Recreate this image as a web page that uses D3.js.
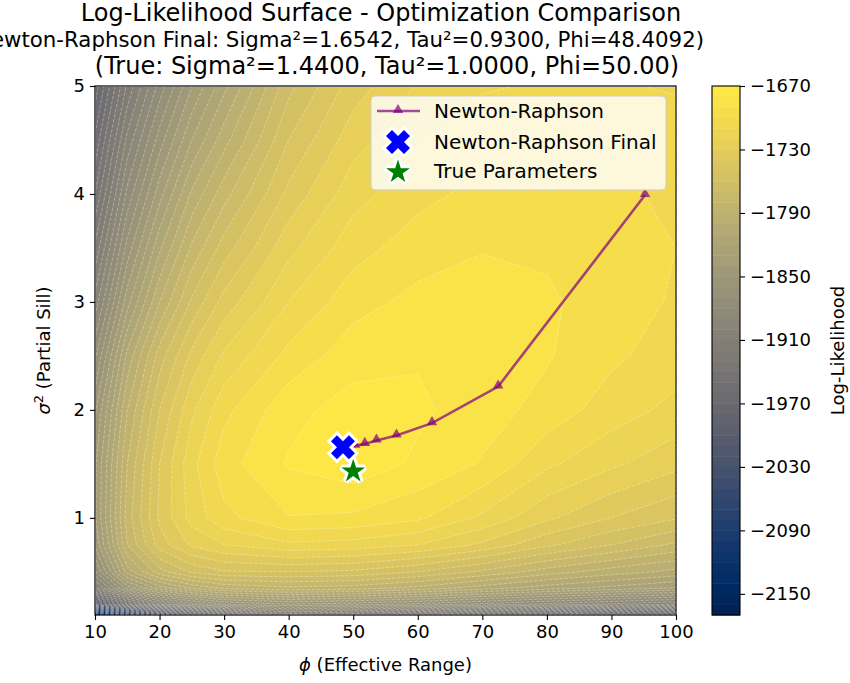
<!DOCTYPE html>
<html>
<head>
<meta charset="utf-8">
<script src="https://cdn.jsdelivr.net/npm/d3@7"></script>
<style>
  body { margin: 0; background: #fff; }
  svg { display: block; }
  text { font-family: "DejaVu Sans", sans-serif; fill: #000; }
</style>
</head>
<body>
<div id="chart"></div>
<script>
const width = 850;
const height = 683;

// grid of the surface
const phiGrid = [10, 15, 20, 25, 30, 40, 50, 60, 70, 80, 90, 100];
const sigmaGrid = [0.1, 0.2, 0.35, 0.5, 0.75, 1, 1.5, 2, 2.5, 3, 3.5, 4, 4.5, 5];
// one row per sigmaGrid value (bottom to top), columns follow phiGrid
const logLik = [
  [-2168, -2075, -2025, -1990, -1960, -1920, -1930, -1945, -1962, -1978, -1990, -2003],
  [-2005, -1940, -1898, -1876, -1860, -1850, -1855, -1862, -1872, -1882, -1892, -1900],
  [-1905, -1845, -1815, -1798, -1788, -1782, -1785, -1793, -1805, -1815, -1823, -1831],
  [-1872, -1805, -1774, -1758, -1751, -1750, -1752, -1760, -1772, -1785, -1795, -1803],
  [-1848, -1780, -1745, -1728, -1720, -1712, -1714, -1720, -1732, -1748, -1760, -1772],
  [-1842, -1775, -1738, -1716, -1703, -1690.5, -1692, -1698, -1712, -1728, -1740, -1749],
  [-1842, -1780, -1740, -1713, -1694, -1679, -1673, -1682, -1691, -1708, -1718, -1727],
  [-1852, -1790, -1750, -1722, -1703, -1683, -1676, -1678, -1685, -1694, -1705, -1713],
  [-1872, -1807, -1765, -1737, -1718, -1697, -1684, -1681, -1683, -1689, -1698, -1705],
  [-1896, -1834, -1790, -1758, -1736, -1710, -1694, -1687, -1686, -1688, -1696, -1701],
  [-1918, -1856, -1812, -1778, -1755, -1723, -1704, -1695, -1690.5, -1692, -1696, -1700],
  [-1940, -1877, -1834, -1798, -1774, -1737, -1714, -1703, -1697, -1697, -1699, -1701],
  [-1958, -1897, -1855, -1820, -1794, -1750, -1724, -1711, -1704, -1703, -1704, -1705],
  [-1976, -1918, -1876, -1840, -1813, -1763, -1735, -1719, -1711, -1709, -1709, -1711]
];

const levels = d3.range(-2170, -1669, 10);

// Newton-Raphson iterates
const nrPhi = [95.2, 72.45, 62.2, 56.7, 53.6, 51.8, 50.3, 48.4092];
const nrSigma = [3.99, 2.216, 1.877, 1.762, 1.716, 1.685, 1.668, 1.6542];
const finalPoint = [48.4092, 1.6542];
const truePoint = [50, 1.44];

const xTicks = d3.range(10, 101, 10);
const yTicks = [1, 2, 3, 4, 5];
const cbTicks = d3.range(-1670, -2151, -60);
const titleLines = [
  'Log-Likelihood Surface - Optimization Comparison',
  '(Newton-Raphson Final: Sigma²=1.6542, Tau²=0.9300, Phi=48.4092)',
  '(True: Sigma²=1.4400, Tau²=1.0000, Phi=50.00)'
];
const legendLabels = ['Newton-Raphson', 'Newton-Raphson Final', 'True Parameters'];

const plot = {left: 95, right: 676, top: 86, bottom: 615};
const cb = {left: 712, right: 740};
const tickFont = 18;

const svg = d3.select('#chart').append('svg')
    .attr('width', width)
    .attr('height', height);

const x = d3.scaleLinear().domain([10, 100]).range([plot.left, plot.right]);
const y = d3.scaleLinear().domain([0.1, 5]).range([plot.bottom, plot.top]);
const cbScale = d3.scaleLinear().domain([-2170, -1670]).range([plot.bottom, plot.top]);
const bandColor = v => d3.interpolateCividis((v + 5 - levels[0]) / (levels[levels.length - 1] - levels[0]));

svg.append('defs').append('clipPath')
    .attr('id', 'plot-clip')
  .append('rect')
    .attr('x', plot.left)
    .attr('y', plot.top)
    .attr('width', plot.right - plot.left)
    .attr('height', plot.bottom - plot.top);

// contour grid index -> data value (d3.contours puts value i at i + 0.5)
function gridToValue (grid, g) {
  const t = Math.max(0, Math.min(grid.length - 1, g - 0.5));
  const i = Math.min(Math.floor(t), grid.length - 2);
  return grid[i] + (t - i) * (grid[i + 1] - grid[i]);
}

const gridProjection = d3.geoTransform({
  point: function (px, py) {
    this.stream.point(x(gridToValue(phiGrid, px)), y(gridToValue(sigmaGrid, py)));
  }
});
const contourPath = d3.geoPath(gridProjection);

const contours = d3.contours()
  .size([phiGrid.length, sigmaGrid.length])
  .thresholds(levels)(logLik.flat());

const surface = svg.append('g').attr('clip-path', 'url(#plot-clip)');

surface.selectAll('.band')
  .data(contours)
  .enter().append('path')
    .attr('class', 'band')
    .attr('d', contourPath)
    .attr('fill', function (d) { return bandColor(d.value); })
    .attr('stroke', function (d) { return bandColor(d.value); })
    .attr('stroke-width', 0.4);

surface.selectAll('.iso')
  .data(contours.slice(1))
  .enter().append('path')
    .attr('class', 'iso')
    .attr('d', contourPath)
    .attr('fill', 'none')
    .attr('stroke', '#fff')
    .attr('stroke-opacity', 0.45)
    .attr('stroke-width', 0.7)
    .attr('stroke-dasharray', '3.5,1.6');

// optimisation path
const nrPoints = nrPhi.map((p, i) => [p, nrSigma[i]]);
surface.append('path')
    .datum(nrPoints)
    .attr('d', d3.line().x(d => x(d[0])).y(d => y(d[1])))
    .attr('fill', 'none')
    .attr('stroke', '#800080')
    .attr('stroke-opacity', 0.7)
    .attr('stroke-width', 2.6);

const triangle = d3.symbol().type(d3.symbolTriangle).size(48);
surface.selectAll('.nr-marker')
  .data(nrPoints)
  .enter().append('path')
    .attr('class', 'nr-marker')
    .attr('d', triangle)
    .attr('transform', d => `translate(${x(d[0])},${y(d[1]) - 1})`)
    .attr('fill', '#800080')
    .attr('fill-opacity', 0.7);

function xMarkerPath (s) {
  const pts = [[-1, -2], [0, -1], [1, -2], [2, -1], [1, 0], [2, 1],
    [1, 2], [0, 1], [-1, 2], [-2, 1], [-1, 0], [-2, -1]];
  return 'M' + pts.map(p => [p[0] * s / 4, p[1] * s / 4].join(',')).join('L') + 'Z';
}

function starPath (r) {
  const pts = d3.range(10).map(function (i) {
    const rad = i % 2 === 0 ? r : r * 0.381966;
    const a = -Math.PI / 2 + i * Math.PI / 5;
    return [rad * Math.cos(a), rad * Math.sin(a)];
  });
  return 'M' + pts.map(p => p.join(',')).join('L') + 'Z';
}

function drawFinal (g, cx, cy) {
  g.append('path')
      .attr('d', xMarkerPath(24))
      .attr('transform', `translate(${cx},${cy})`)
      .attr('fill', '#0000ff')
      .attr('stroke', '#fff')
      .attr('stroke-width', 6)
      .attr('paint-order', 'stroke')
      .attr('stroke-linejoin', 'miter');
}

function drawTrue (g, cx, cy) {
  g.append('path')
      .attr('d', starPath(12.5))
      .attr('transform', `translate(${cx},${cy})`)
      .attr('fill', '#008000')
      .attr('stroke', '#fff')
      .attr('stroke-width', 6)
      .attr('paint-order', 'stroke')
      .attr('stroke-linejoin', 'miter')
      .attr('stroke-miterlimit', 3);
}

drawFinal(svg, x(finalPoint[0]), y(finalPoint[1]));
drawTrue(svg, x(truePoint[0]), y(truePoint[1]) + 1);

// axes
const xAxis = svg.append('g')
    .attr('transform', `translate(0,${plot.bottom})`)
    .call(d3.axisBottom(x).tickValues(xTicks).tickFormat(d3.format('d')).tickSize(5).tickPadding(5));
const yAxis = svg.append('g')
    .attr('transform', `translate(${plot.left},0)`)
    .call(d3.axisLeft(y).tickValues(yTicks).tickFormat(d3.format('d')).tickSize(5).tickPadding(5));
[xAxis, yAxis].forEach(function (a) {
  a.select('.domain').remove();
  a.selectAll('line').attr('stroke', '#000').attr('stroke-width', 1.1);
  a.selectAll('text').attr('font-size', tickFont).attr('font-family', '"DejaVu Sans", sans-serif');
});

svg.append('rect')
    .attr('x', plot.left)
    .attr('y', plot.top)
    .attr('width', plot.right - plot.left)
    .attr('height', plot.bottom - plot.top)
    .attr('fill', 'none')
    .attr('stroke', '#000')
    .attr('stroke-width', 1.2);

svg.append('text')
    .attr('x', (plot.left + plot.right) / 2)
    .attr('y', 671)
    .attr('text-anchor', 'middle')
    .attr('font-size', tickFont)
    .html('<tspan font-style="italic">ϕ</tspan> (Effective Range)');

svg.append('text')
    .attr('transform', `translate(50,${(plot.top + plot.bottom) / 2}) rotate(-90)`)
    .attr('text-anchor', 'middle')
    .attr('font-size', tickFont)
    .html('<tspan font-style="italic">σ</tspan><tspan font-size="13" dy="-7">2</tspan><tspan dy="7"> (Partial Sill)</tspan>');

// title
svg.append('text').attr('x', 381).attr('y', 21).attr('text-anchor', 'middle')
    .attr('font-size', 24).text(titleLines[0]);
svg.append('text').attr('x', 704).attr('y', 47).attr('text-anchor', 'end')
    .attr('font-size', 21.3).text(titleLines[1]);
svg.append('text').attr('x', 387).attr('y', 74).attr('text-anchor', 'middle')
    .attr('font-size', 24).text(titleLines[2]);

// legend
const legend = svg.append('g');
legend.append('rect')
    .attr('x', 371)
    .attr('y', 96)
    .attr('width', 295)
    .attr('height', 94)
    .attr('rx', 4)
    .attr('fill', '#fff')
    .attr('fill-opacity', 0.8)
    .attr('stroke', '#cccccc')
    .attr('stroke-width', 1);
const legendY = [111, 142, 171];
legend.append('line')
    .attr('x1', 377).attr('x2', 420)
    .attr('y1', legendY[0]).attr('y2', legendY[0])
    .attr('stroke', '#800080').attr('stroke-opacity', 0.7).attr('stroke-width', 2.6);
legend.append('path')
    .attr('d', triangle)
    .attr('transform', `translate(398,${legendY[0] - 1})`)
    .attr('fill', '#800080').attr('fill-opacity', 0.7);
drawFinal(legend, 398, legendY[1]);
drawTrue(legend, 398, legendY[2] + 1);
legend.selectAll('.legend-label')
  .data(legendLabels)
  .enter().append('text')
    .attr('class', 'legend-label')
    .attr('x', 434)
    .attr('y', (d, i) => legendY[i] + 7)
    .attr('font-size', 20)
    .text(d => d);

// colorbar
const cbBands = levels.slice(0, -1);
svg.append('g').selectAll('rect')
  .data(cbBands)
  .enter().append('rect')
    .attr('x', cb.left)
    .attr('width', cb.right - cb.left)
    .attr('y', d => cbScale(d + 10))
    .attr('height', d => cbScale(d) - cbScale(d + 10) + 0.5)
    .attr('fill', d => bandColor(d));
svg.append('rect')
    .attr('x', cb.left)
    .attr('y', plot.top)
    .attr('width', cb.right - cb.left)
    .attr('height', plot.bottom - plot.top)
    .attr('fill', 'none')
    .attr('stroke', '#000')
    .attr('stroke-width', 1.1);
const cbAxis = svg.append('g')
    .attr('transform', `translate(${cb.right},0)`)
    .call(d3.axisRight(cbScale).tickValues(cbTicks).tickFormat(d3.format('d')).tickSize(5).tickPadding(5));
cbAxis.select('.domain').remove();
cbAxis.selectAll('line').attr('stroke', '#000').attr('stroke-width', 1.1);
cbAxis.selectAll('text').attr('font-size', tickFont).attr('font-family', '"DejaVu Sans", sans-serif');

svg.append('text')
    .attr('transform', `translate(844,${(plot.top + plot.bottom) / 2}) rotate(-90)`)
    .attr('text-anchor', 'middle')
    .attr('font-size', tickFont)
    .text('Log-Likelihood');
</script>
</body>
</html>
